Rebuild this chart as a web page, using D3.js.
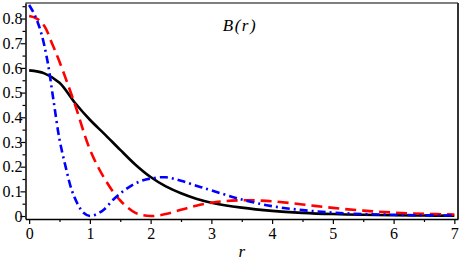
<!DOCTYPE html>
<html>
<head>
<meta charset="utf-8">
<script src="https://cdn.jsdelivr.net/npm/d3@7"></script>
<style>
  body { margin: 0; background: #fff; }
</style>
</head>
<body>
<script>
// values
var rBlack = [0, 0.25, 0.5, 0.75, 1, 1.25, 1.5, 1.75, 2, 2.25, 2.5, 2.75, 3, 3.5, 4, 4.5, 5, 5.5, 6, 6.5, 7];
var bBlack = [0.59, 0.578, 0.54, 0.46, 0.39, 0.33, 0.268, 0.208, 0.158, 0.12, 0.092, 0.07, 0.054, 0.034, 0.021, 0.013, 0.008, 0.005, 0.003, 0.002, 0.001];

var rRed = [0, 0.125, 0.25, 0.375, 0.5, 0.75, 1, 1.25, 1.5, 1.75, 2, 2.25, 2.5, 2.75, 3, 3.25, 3.5, 3.75, 4, 4.5, 5, 5.5, 6, 6.5, 7];
var bRed = [0.81, 0.80, 0.77, 0.70, 0.625, 0.455, 0.27, 0.148, 0.063, 0.013, 0, 0.008, 0.025, 0.042, 0.054, 0.061, 0.064, 0.063, 0.06, 0.047, 0.033, 0.022, 0.014, 0.009, 0.006];

var rBlue = [0, 0.1, 0.2, 0.3, 0.4, 0.5, 0.6, 0.7, 0.8, 0.9, 1, 1.2, 1.4, 1.6, 1.8, 2, 2.25, 2.5, 2.75, 3, 3.5, 4, 4.5, 5, 5.5, 6, 6.5, 7];
var bBlue = [0.855, 0.81, 0.74, 0.63, 0.47, 0.31, 0.2, 0.106, 0.048, 0.012, 0, 0.02, 0.07, 0.11, 0.138, 0.152, 0.157, 0.143, 0.123, 0.104, 0.067, 0.04, 0.024, 0.014, 0.008, 0.005, 0.003, 0.002];

var xTicks = [0, 1, 2, 3, 4, 5, 6, 7];
var yTicks = [0, 0.1, 0.2, 0.3, 0.4, 0.5, 0.6, 0.7, 0.8];
var yLabels = ["0", "0.1", "0.2", "0.3", "0.4", "0.5", "0.6", "0.7", "0.8"];

var width = 463, height = 262;
var padL = 25.5, padR = 458, padT = 3, padB = 219;
var serif = "'Liberation Serif', 'Times New Roman', serif";

var svg = d3.select("body").append("svg")
    .attr("width", width)
    .attr("height", height);

var x = d3.scaleLinear().domain([-0.06, 7.06]).range([padL, padR]);
var y = d3.scaleLinear().domain([-0.012, 0.863]).range([padB, padT]);

// frame (top / right)
svg.append("line").attr("x1", padL).attr("x2", padR).attr("y1", padT).attr("y2", padT)
    .attr("stroke", "#555").attr("stroke-width", 1.5);
svg.append("line").attr("x1", padR).attr("x2", padR).attr("y1", padT).attr("y2", padB)
    .attr("stroke", "#333").attr("stroke-width", 2);

var line = d3.line()
    .x(function(d){ return x(d[0]); })
    .y(function(d){ return y(d[1]); })
    .curve(d3.curveCatmullRom.alpha(0.5));

var series = [
  { r: rBlack, b: bBlack, color: "#000000", dash: null },
  { r: rRed, b: bRed, color: "#ff0000", dash: "11,6" },
  { r: rBlue, b: bBlue, color: "#0000ff", dash: "8,4,2,4" }
];

series.forEach(function(s){
  svg.append("path")
    .datum(d3.zip(s.r, s.b))
    .attr("fill", "none")
    .attr("stroke", s.color)
    .attr("stroke-width", 2.6)
    .attr("stroke-dasharray", s.dash)
    .attr("d", line);
});

// y axis
var yAxis = d3.axisLeft(y).tickValues(yTicks)
    .tickFormat(function(d, i){ return yLabels[i]; })
    .tickSize(5).tickSizeOuter(0);
var ya = svg.append("g").attr("transform", "translate(" + padL + ",0)").call(yAxis);
ya.attr("font-family", null).attr("font-size", null);
ya.select(".domain").attr("stroke", "#000").attr("stroke-width", 1.5);
ya.selectAll(".tick line").attr("stroke-width", 1.2);
ya.selectAll(".tick text").style("font-family", serif).style("font-size", "16px").attr("fill", "#000").attr("x", -3);
var yMinor = d3.axisLeft(y).tickValues(yTicks.map(function(d){ return d + 0.05; }))
    .tickFormat("").tickSize(3).tickSizeOuter(0);
var ym = svg.append("g").attr("transform", "translate(" + padL + ",0)").call(yMinor);
ym.select(".domain").remove();
ym.selectAll(".tick line").attr("stroke-width", 1.2);

// x axis
var xAxis = d3.axisBottom(x).tickValues(xTicks).tickFormat(d3.format("d"))
    .tickSize(5).tickSizeOuter(0);
var xa = svg.append("g").attr("transform", "translate(0," + padB + ")").call(xAxis);
xa.attr("font-family", null).attr("font-size", null);
xa.select(".domain").attr("stroke", "#000").attr("stroke-width", 1.5);
xa.selectAll(".tick line").attr("stroke-width", 1.2);
xa.selectAll(".tick text").style("font-family", serif).style("font-size", "16px").attr("fill", "#000").attr("y", 9);
var xMinor = d3.axisBottom(x).tickValues(xTicks.slice(0, -1).map(function(d){ return d + 0.5; }))
    .tickFormat("").tickSize(3).tickSizeOuter(0);
var xm = svg.append("g").attr("transform", "translate(0," + padB + ")").call(xMinor);
xm.select(".domain").remove();
xm.selectAll(".tick line").attr("stroke-width", 1.2);

// labels
svg.append("text").attr("x", x(3.5)).attr("y", 257).attr("text-anchor", "middle")
    .style("font-family", serif).style("font-size", "17px").style("font-style", "italic").text("r");
svg.append("text").attr("x", 240).attr("y", 31).attr("text-anchor", "middle")
    .style("font-family", serif).style("font-size", "17px").style("font-style", "italic")
    .attr("letter-spacing", 1.5).text("B(r)");
</script>
</body>
</html>
